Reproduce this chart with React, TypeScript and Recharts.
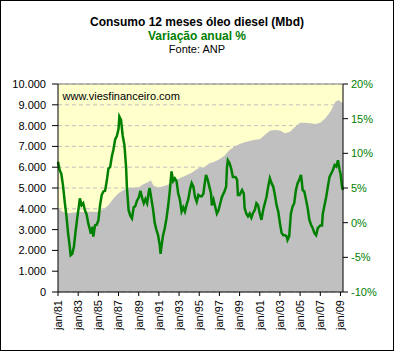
import { ComposedChart, Area, Line, XAxis, YAxis, CartesianGrid, ReferenceLine } from "recharts";

// months since jan/81 -> consumo 12 meses (Mbd)
const consumoMes = [0, 6, 12, 24, 36, 48, 54, 60, 66, 72, 78, 84, 90, 96, 100, 108, 110, 114, 120, 130, 140, 149, 159, 167, 174, 180, 186, 192, 198, 204, 210, 216, 222, 228, 234, 240, 246, 252, 258, 264, 270, 276, 282, 288, 294, 300, 306, 312, 318, 324, 330, 334, 336, 339];
const consumo = [4020, 3850, 3790, 3850, 3860, 3860, 3980, 4170, 4500, 4750, 4900, 4990, 5030, 5030, 5140, 5300, 5385, 5100, 5030, 5140, 5385, 5540, 5735, 5945, 6000, 6190, 6260, 6380, 6550, 6830, 7000, 7115, 7200, 7260, 7320, 7340, 7550, 7750, 7790, 7760, 7630, 7710, 7950, 8140, 8140, 8110, 8080, 8140, 8350, 8670, 9150, 9230, 9150, 9100];

// months since jan/81 -> variação anual %
const variacaoMes = [0, 2, 4, 6, 8, 10, 12, 14, 15, 17, 19, 21, 23, 25, 26, 28, 30, 32, 34, 36, 38, 39, 41, 42, 44, 46, 48, 50, 52, 54, 56, 58, 60, 62, 64, 66, 68, 70, 72, 73, 75, 77, 79, 81, 82, 84, 86, 88, 90, 92, 94, 96, 98, 100, 102, 104, 106, 108, 109, 111, 113, 115, 117, 119, 121, 122, 123, 125, 127, 129, 131, 133, 135, 137, 139, 141, 143, 145, 147, 149, 151, 153, 155, 157, 159, 161, 163, 165, 167, 169, 171, 173, 174, 176, 178, 180, 182, 183, 185, 187, 189, 191, 193, 195, 198, 200, 201, 202, 204, 206, 208, 211, 213, 214, 216, 219, 221, 222, 224, 226, 228, 230, 232, 234, 236, 238, 240, 242, 244, 246, 248, 250, 252, 254, 256, 258, 260, 262, 264, 266, 268, 270, 272, 273, 275, 277, 279, 281, 283, 285, 287, 289, 290, 291, 293, 295, 297, 299, 301, 303, 305, 307, 309, 312, 314, 315, 317, 319, 321, 323, 325, 327, 329, 331, 333, 335, 336, 338, 339];
const variacao = [8.8, 7.6, 7.0, 5.3, 3.0, 1.0, -1.5, -3.5, -4.7, -4.5, -3.4, -1.2, 0.8, 2.5, 3.5, 2.5, 2.8, 1.8, 1.2, -0.1, -1.0, -1.6, -0.6, -2.0, -0.4, -0.3, 0.3, 2.5, 4.0, 4.5, 4.6, 6.0, 7.8, 8.0, 9.5, 10.6, 12.0, 12.5, 13.5, 15.3, 14.8, 12.5, 11.2, 8.0, 5.0, 1.8, 1.0, 0.6, 2.2, 2.4, 3.2, 3.6, 4.6, 3.6, 2.8, 3.4, 2.8, 4.5, 5.0, 3.5, 2.0, 0.0, -1.0, -1.8, -3.2, -4.5, -3.5, -1.8, -0.8, 0.6, 2.4, 4.6, 7.4, 6.0, 6.4, 6.0, 4.2, 3.3, 1.6, 2.2, 1.6, 2.6, 3.4, 4.8, 5.7, 5.2, 3.7, 3.0, 4.0, 3.8, 3.8, 4.2, 5.2, 6.9, 6.2, 5.2, 4.2, 2.5, 3.3, 2.3, 1.3, 1.8, 2.8, 3.7, 4.5, 5.2, 8.0, 9.0, 8.6, 7.8, 6.6, 6.6, 6.2, 4.0, 4.0, 4.7, 4.2, 2.1, 1.3, 0.9, 1.3, 0.7, 1.4, 1.8, 2.8, 2.5, 1.3, 0.4, 1.8, 2.8, 3.7, 5.2, 6.4, 5.7, 5.2, 4.0, 2.5, 1.6, -0.1, -1.5, -1.8, -1.8, -2.0, -2.5, -2.0, 1.3, 2.3, 2.8, 4.7, 5.7, 6.2, 6.9, 5.9, 4.7, 4.5, 3.3, 2.1, 0.4, -0.3, -0.8, -1.5, -1.8, -0.8, -0.4, -0.4, 1.3, 2.5, 3.7, 5.2, 6.6, 7.1, 7.6, 8.3, 8.1, 9.0, 7.6, 7.1, 5.0, 4.7];

const xTicks = [0, 24, 48, 72, 96, 120, 144, 168, 192, 216, 240, 264, 288, 312, 336];
const xLabels = ["jan/81", "jan/83", "jan/85", "jan/87", "jan/89", "jan/91", "jan/93", "jan/95", "jan/97", "jan/99", "jan/01", "jan/03", "jan/05", "jan/07", "jan/09"];
const leftTicks = [0, 1000, 2000, 3000, 4000, 5000, 6000, 7000, 8000, 9000, 10000];
const rightTicks = [-10, -5, 0, 5, 10, 15, 20];

const byMonth = new Map<number, any>();
consumoMes.forEach((m, i) => byMonth.set(m, { ...(byMonth.get(m) || { m }), consumo: consumo[i] }));
variacaoMes.forEach((m, i) => byMonth.set(m, { ...(byMonth.get(m) || { m }), variacao: variacao[i] }));
const data = Array.from(byMonth.values()).sort((a, b) => a.m - b.m);

const FONT = "'Liberation Sans', Arial, sans-serif";
const GREEN = "#008000";

const fmtThousands = (v: number) => String(v).replace(/\B(?=(\d{3})+(?!\d))/g, ".");

function MonthTick(props: any) {
  const { x, y, payload } = props;
  const label = xLabels[xTicks.indexOf(payload.value)] ?? "";
  return (
    <text x={x} y={y} dy="0.35em" transform={`rotate(-90, ${x}, ${y})`} textAnchor="end" fontSize={11} fontFamily={FONT} fill="#000">
      {label}
    </text>
  );
}

export default function App() {
  return (
    <div style={{ position: "absolute", left: 0, top: 0, width: 394, height: 351, background: "#fff" }}>
      <ComposedChart width={394} height={351} data={data} margin={{ top: 84, right: 0, left: 8, bottom: 9 }}>
        <CartesianGrid yAxisId="left" vertical={false} fill="#ffffcc" stroke="#c0c0c0" strokeDasharray="4 3" />
        <XAxis
          dataKey="m"
          type="number"
          domain={[0, 339]}
          ticks={xTicks}
          interval={0}
          height={50}
          tickSize={4}
          tickMargin={4}
          tick={<MonthTick />}
          axisLine={{ stroke: "#000" }}
          tickLine={{ stroke: "#000" }}
        />
        <YAxis
          yAxisId="left"
          domain={[0, 10000]}
          ticks={leftTicks}
          interval={0}
          width={50}
          tickSize={6}
          tickMargin={6}
          tickFormatter={fmtThousands}
          tick={{ fontSize: 11, fontFamily: FONT, fill: "#000" }}
          axisLine={{ stroke: "#000" }}
          tickLine={{ stroke: "#000" }}
        />
        <YAxis
          yAxisId="right"
          orientation="right"
          domain={[-10, 20]}
          ticks={rightTicks}
          interval={0}
          width={51}
          tickSize={5}
          tickMargin={3}
          tickFormatter={(v: number) => `${v}%`}
          tick={{ fontSize: 11, fontFamily: FONT, fill: GREEN }}
          axisLine={{ stroke: "#000" }}
          tickLine={{ stroke: "#000" }}
        />
        <ReferenceLine yAxisId="left" y={10000} stroke="#808080" />
        <Area
          yAxisId="left"
          type="linear"
          dataKey="consumo"
          fill="#c0c0c0"
          fillOpacity={1}
          stroke="none"
          connectNulls
          dot={false}
          activeDot={false}
          isAnimationActive={false}
        />
        <Line
          yAxisId="right"
          type="linear"
          dataKey="variacao"
          stroke={GREEN}
          strokeWidth={2.5}
          connectNulls
          dot={false}
          activeDot={false}
          isAnimationActive={false}
        />
      </ComposedChart>
      <svg width={394} height={351} style={{ position: "absolute", left: 0, top: 0, pointerEvents: "none" }}>
        <text x={197} y={26} textAnchor="middle" fontSize={12} fontWeight="bold" fontFamily={FONT} fill="#000">
          Consumo 12 meses óleo diesel (Mbd)
        </text>
        <text x={197} y={39.5} textAnchor="middle" fontSize={12} fontWeight="bold" fontFamily={FONT} fill={GREEN}>
          Variação anual %
        </text>
        <text x={197} y={53} textAnchor="middle" fontSize={11} fontFamily={FONT} fill="#000">
          Fonte: ANP
        </text>
        <text x={62.5} y={100} fontSize={11} fontFamily={FONT} fill="#000">
          www.viesfinanceiro.com
        </text>
        <rect x={0.5} y={0.5} width={393} height={350} fill="none" stroke="#000" />
      </svg>
    </div>
  );
}
